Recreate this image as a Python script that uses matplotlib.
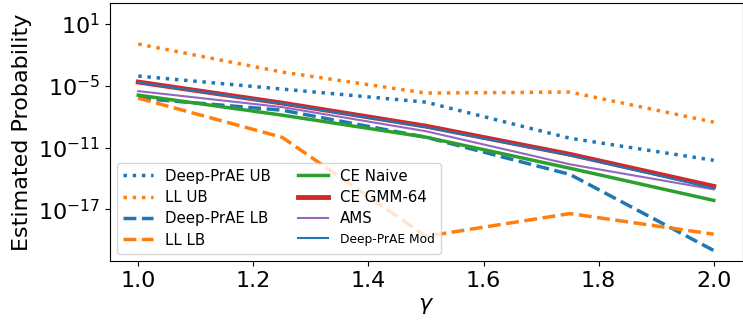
import numpy as np
import matplotlib
matplotlib.use("Agg")
import matplotlib.pyplot as plt

# gamma values and log10 of the estimated probabilities
gamma = [1.0, 1.25, 1.5, 1.75, 2.0]
dp_ub = [-4.06, -5.32, -6.59, -10.09, -12.23]
ll_ub = [-0.95, -3.67, -5.71, -5.61, -8.53]
dp_lb = [-6.2, -7.37, -9.99, -13.6, -20.98]
ll_lb = [-6.2, -10.0, -19.6, -17.4, -19.4]
ce_naive = [-5.91, -7.85, -9.99, -13.0, -16.12]
ce_gmm = [-4.64, -6.68, -8.92, -11.65, -14.76]
ams = [-5.52, -7.07, -9.41, -12.62, -15.05]
dp_mod = [-4.69, -6.73, -9.02, -11.74, -14.95]

fig = plt.figure(figsize=(7.43, 3.2), dpi=100)
ax = fig.add_axes([109.5 / 743, 1 - 261 / 320, 633.0 / 743, 257.7 / 320])

p = lambda v: 10.0 ** np.array(v)
ax.plot(gamma, p(dp_ub), ':', color='tab:blue', lw=2.5, label='Deep-PrAE UB')
ax.plot(gamma, p(ll_ub), ':', color='tab:orange', lw=2.5, label='LL UB')
ax.plot(gamma, p(dp_lb), '--', color='tab:blue', lw=2.5, label='Deep-PrAE LB')
ax.plot(gamma, p(ll_lb), '--', color='tab:orange', lw=2.5, label='LL LB')
ax.plot(gamma, p(ce_naive), '-', color='tab:green', lw=2.5, label='CE Naive')
ax.plot(gamma, p(ce_gmm), '-', color='tab:red', lw=3.5, label='CE GMM-64')
ax.plot(gamma, p(ams), '-', color='tab:purple', lw=1.5, label='AMS')
ax.plot(gamma, p(dp_mod), '-', color='tab:blue', lw=1.5, label='Deep-PrAE Mod')

ax.set_yscale('log')
ax.set_ylim(1e-22, 1e3)
ax.set_yticks([1e1, 1e-5, 1e-11, 1e-17])
ax.yaxis.set_minor_locator(matplotlib.ticker.NullLocator())
ax.set_xticks([1.0, 1.2, 1.4, 1.6, 1.8, 2.0])
ax.tick_params(labelsize=16)
ax.set_xlabel(r'$\gamma$', fontsize=16)
ax.set_ylabel('Estimated Probability', fontsize=16)

leg = ax.legend(ncol=2, loc='lower left', fontsize=10.8, handlelength=2.0,
                labelspacing=0.42, columnspacing=1.8)
leg.get_texts()[7].set_fontsize(8.8)

fig.savefig('out.png', dpi=100)
